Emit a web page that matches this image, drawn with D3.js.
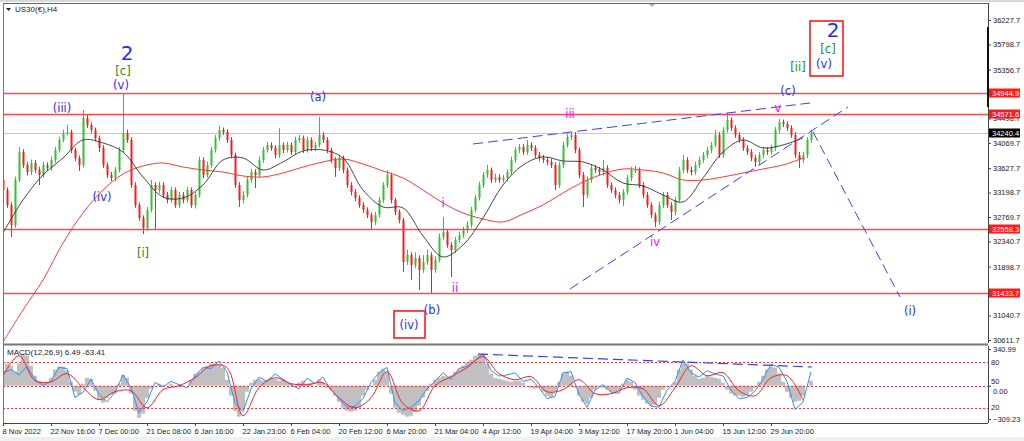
<!DOCTYPE html>
<html>
<head>
<meta charset="utf-8">
<script src="https://cdn.jsdelivr.net/npm/d3@7"></script>
<style>
html, body { margin: 0; padding: 0; background: #fff; }
svg { display: block; font-family: "Liberation Sans", Arial, sans-serif; }
</style>
</head>
<body>
<div id="chart"></div>
<script>
// US30 H4 bars, one entry per bar (open = previous close)
const firstOpen = 33420;
const closes = [
  33244,32981,32630,33420,33911,33683,33560,33718,33595,33508,
  33683,33631,33771,33946,34122,34245,34262,33946,33806,33683,
  34508,34385,34297,34157,33982,33683,33508,33455,33595,33946,
  34245,34122,33332,32981,32753,32578,32893,33332,33244,33332,
  33157,33069,33244,32981,33157,33069,33244,32981,33157,33771,
  33508,33683,33946,34157,34297,34262,34122,33859,33332,33069,
  33157,33420,33560,33508,33771,33946,34034,33982,33859,34034,
  33946,34034,33911,34122,34157,33946,34122,33982,34034,34210,
  34122,33946,33771,33631,33806,33595,33332,33209,33104,32981,
  32893,32806,32683,32806,33069,33332,33508,33069,32858,32718,
  31981,32104,31928,32051,31840,31981,32104,31840,32016,32420,
  32507,32279,32191,32367,32455,32542,32630,32893,33104,33332,
  33508,33595,33420,33473,33420,33455,33560,33771,33946,33999,
  33911,34034,33982,33859,33806,33771,33736,33683,33332,33683,
  34034,34175,34210,33946,33508,33157,33420,33631,33595,33560,
  33631,33332,33244,33157,33069,33209,33455,33595,33595,33332,
  33157,32981,32806,32683,32981,33157,32981,32858,33069,33595,
  33771,33595,33560,33683,33771,33859,33946,34034,34210,33859,
  34297,34473,34333,34210,34122,33982,33911,33806,33736,33859,
  33946,33911,33982,34297,34438,34403,34333,34210,33859,33771,
  33859,34122,34240
];
const highs = [
  33480,33290,33030,33480,33990,33960,33740,33780,33770,33650,
  33740,33730,33830,34000,34180,34300,34385,34300,33990,33850,
  34648,34560,34430,34340,34200,34030,33730,33560,33650,34000,
  34947,34300,34170,33380,33030,32800,32950,33420,33380,33390,
  33380,33210,33300,33290,33210,33210,33300,33290,33210,33830,
  33820,33740,34000,34210,34368,34340,34310,34170,33900,33380,
  33220,33480,33620,33610,33830,34000,34090,34080,34030,34333,
  34080,34090,34080,34180,34210,34200,34180,34170,34090,34526,
  34260,34170,33990,33820,33860,33850,33640,33380,33260,33150,
  33030,32940,32850,32860,33120,33380,33595,33550,33110,32900,
  32760,32200,32150,32150,32100,32100,32200,32150,32080,32480,
  32771,32550,32330,32420,32510,32600,32690,32950,33160,33390,
  33560,33683,33640,33530,33520,33510,33610,33830,34000,34050,
  34050,34122,34080,34030,33910,33860,33820,33790,33730,33740,
  34090,34230,34262,34260,33990,33560,33480,33690,33680,33650,
  33771,33680,33380,33290,33210,33260,33510,33650,33666,33640,
  33380,33210,33030,32850,33040,33209,33210,33030,33120,33650,
  33859,33820,33650,33740,33830,33910,34000,34090,34297,34260,
  34350,34596,34520,34380,34260,34170,34030,33960,33860,33910,
  34000,34000,34040,34350,34491,34480,34450,34380,34260,33910,
  33910,34170,34300
];
const lows = [
  33190,32930,32420,32580,33380,33630,33500,33510,33540,33330,
  33460,33580,33580,33720,33900,34080,34200,33890,33750,33580,
  33640,34330,34240,34100,33911,33630,33450,33400,33400,33550,
  33900,34070,33280,32930,32700,32472,32530,32850,32542,33190,
  33100,33010,33020,32930,32930,33010,33020,32930,32920,33110,
  33450,33460,33630,33900,34110,34210,34070,33800,33280,32946,
  33010,33110,33370,33280,33460,33720,33900,33930,33800,33810,
  33890,33900,33860,33860,34070,33890,33900,33930,33930,33990,
  34070,33890,33720,33473,33580,33540,33280,33150,33050,32930,
  32840,32750,32542,32630,32760,33020,33280,33010,32800,32660,
  31805,31930,31665,31870,31489,31790,31930,31437,31790,31970,
  32370,32230,31718,32140,32320,32400,32490,32580,32850,33060,
  33280,33460,33370,33370,33370,33370,33400,33510,33720,33890,
  33860,33860,33930,33800,33750,33720,33680,33630,33244,33280,
  33630,33990,34120,33890,33450,32946,33100,33370,33540,33500,
  33500,33280,33190,33100,33010,32964,33160,33400,33540,33280,
  33100,32930,32750,32595,32630,32930,32930,32718,32800,33020,
  33540,33540,33500,33510,33630,33720,33800,33890,33990,33806,
  33810,34250,34280,34160,34070,33930,33860,33750,33648,33680,
  33800,33860,33860,33930,34250,34350,34280,34160,33800,33631,
  33720,33800,34070
];

// moving averages read every 5 bars
const maStep = 5;
const maFast = [
  32490,33069,33508,33806,34122,34069,33911,33473,33122,33104,
  33332,33771,33806,33595,33736,33929,33946,33806,33244,32946,
  32929,32437,32069,32279,32753,33332,33683,33824,33753,33736,
  33595,33367,33315,33157,33034,33455,33911,34122,33982,34034,
  34157
];
const maSlow = [
  30577,31139,31665,32314,32841,33244,33525,33666,33718,33648,
  33595,33560,33490,33473,33543,33648,33736,33789,33701,33578,
  33455,33244,33016,32841,32736,32683,32823,32981,33192,33385,
  33525,33613,33595,33543,33420,33420,33473,33543,33613,33683,
  33806
];

const levelPrices = [34944.9, 34571.6, 32558.3, 31433.7];
const lastPrice = 34240.4;
const priceTicks = [36227.7, 35798.7, 35356.7, 34927.7, 34498.7, 34069.7, 33627.7,
  33198.7, 32769.7, 32340.7, 31898.7, 31469.7, 31040.7, 30611.7];

const labelStep = 12;
const timeLabels = ["8 Nov 2022", "22 Nov 16:00", "7 Dec 00:00", "21 Dec 08:00", "6 Jan 16:00",
  "22 Jan 23:00", "6 Feb 04:00", "20 Feb 12:00", "6 Mar 20:00", "21 Mar 04:00", "4 Apr 12:00",
  "19 Apr 04:00", "3 May 12:00", "17 May 20:00", "1 Jun 04:00", "15 Jun 12:00", "29 Jun 20:00"];

// MACD panel
const macdRange = [-309.23, 340.99];
const macdHist = [
  140,205,186,130,205,298,279,186,93,47,
  37,28,74,149,177,177,140,37,-56,-84,
  19,74,65,-47,-130,-158,-112,-84,-74,19,
  102,74,-74,-233,-298,-260,-112,-28,0,19,
  9,0,19,0,9,-9,0,56,112,130,
  167,186,205,205,195,167,56,-93,-233,-288,
  -223,-56,28,56,65,47,56,74,65,47,
  56,37,19,0,28,47,19,28,0,56,
  28,-19,-37,-93,-149,-205,-233,-242,-233,-205,
  -93,-37,-9,56,130,158,121,-74,-205,-251,
  -270,-288,-279,-242,-186,-112,-47,19,56,74,
  93,84,93,130,158,186,214,242,279,288,
  298,205,112,74,65,56,47,37,47,47,
  28,0,-19,-28,-19,-56,-93,-112,-56,37,
  112,130,93,-19,-93,-149,-167,-112,-37,-9,
  -19,-37,-56,-65,-47,19,56,37,-37,-93,
  -130,-167,-186,-177,-112,-37,-9,0,37,149,
  223,205,149,93,65,74,93,84,74,65,
  28,-37,-74,-93,-93,-102,-84,-56,-19,37,
  93,149,177,167,112,37,-56,-112,-149,-140,
  -93,0,47
];
const blueStep = 2;
const macdBlue = [
  120,150,100,180,60,0,40,170,160,-110,
  -60,60,-80,-150,-60,100,-20,-250,-150,30,
  -10,40,10,-20,90,170,160,230,130,-160,
  -240,-30,80,40,110,60,10,-30,70,20,
  80,-40,-120,-200,-190,-120,30,120,170,-160,
  -230,-200,-140,-30,40,120,60,160,180,230,
  300,140,90,100,120,40,60,-20,-120,-100,
  120,130,-80,-200,-40,10,-60,-70,70,30,
  -100,-190,-200,-40,40,240,120,80,140,110,
  90,-40,-120,-110,-50,60,200,170,40,-220,
  -150,130
];
const redStep = 4;
const macdRed = [
  93,279,47,37,112,-19,-130,-56,-47,-205,
  -37,0,74,186,167,-279,-19,74,19,9,
  28,-112,-205,-112,130,-167,-233,0,84,167,
  270,112,56,84,-56,-37,56,-74,-74,-19,
  -28,-186,-19,186,93,121,-47,-93,74,93,
  -130
];
const macdLevels = [220, 0, -207];
const macdLevelLabels = ["80", "50", "20"];

// drawn objects, in [bar, price] chart coordinates
const trendLines = [
  [[117.5, 34052], [201.75, 34771]],
  [[141.75, 31507], [211.25, 34701]],
  [[202.5, 34263], [224.25, 31366]]
];
const macdTrend = [[118.75, 294], [202.25, 174]];

const waveLabels = [
  {t: "2", bar: 31, price: 35640, c: "blue", big: true},
  {t: "[c]", bar: 30, price: 35340, c: "green"},
  {t: "(v)", bar: 29.5, price: 35080, c: "blue"},
  {t: "(iii)", bar: 14.75, price: 34684, c: "blue"},
  {t: "(iv)", bar: 24.75, price: 33122, c: "blue"},
  {t: "[i]", bar: 35, price: 32139, c: "green"},
  {t: "(a)", bar: 78.75, price: 34877, c: "blue"},
  {t: "(b)", bar: 107.25, price: 31139, c: "blue"},
  {t: "(iv)", bar: 101.5, price: 30875, c: "blue"},
  {t: "i", bar: 110, price: 33016, c: "magenta"},
  {t: "ii", bar: 113, price: 31525, c: "magenta"},
  {t: "iii", bar: 141.75, price: 34578, c: "magenta"},
  {t: "iv", bar: 163, price: 32332, c: "magenta"},
  {t: "v", bar: 193.75, price: 34684, c: "magenta"},
  {t: "(c)", bar: 196.25, price: 34982, c: "blue"},
  {t: "[ii]", bar: 198.75, price: 35403, c: "green"},
  {t: "(v)", bar: 205.25, price: 35456, c: "blue"},
  {t: "[c]", bar: 206.25, price: 35719, c: "green"},
  {t: "2", bar: 207.5, price: 36050, c: "blue", big: true},
  {t: "(i)", bar: 226.75, price: 31121, c: "blue"}
];
const labelBoxes = [
  [[97.75, 31121], [105.5, 30647]],
  [[201.75, 36210], [210, 35245]]
];

const colors = {blue: "#2a2aff", green: "#1f8a1f", magenta: "#ff00ff"};

const W = 1024, H = 441;
const svg = d3.select("#chart").append("svg").attr("width", W).attr("height", H);

svg.append("rect").attr("width", W).attr("height", H).attr("fill", "#fff");
svg.append("rect").attr("width", W).attr("height", 2).attr("fill", "#d8d8d8");
svg.append("rect").attr("y", 437).attr("width", W).attr("height", 4).attr("fill", "#f0f0f0");

const x = d3.scaleLinear().domain([0, 246]).range([3, 987]);
const y = d3.scaleLinear().domain([30541, 36526]).range([344, 3]);
const my = d3.scaleLinear().domain(macdRange).range([419, 349]);

const defs = svg.append("defs");
defs.append("clipPath").attr("id", "clipMain")
  .append("rect").attr("x", 3).attr("y", 3).attr("width", 985).attr("height", 340);
defs.append("clipPath").attr("id", "clipSub")
  .append("rect").attr("x", 3).attr("y", 346).attr("width", 985).attr("height", 77);

// ---- main panel ----
const g = svg.append("g").attr("clip-path", "url(#clipMain)");

g.append("line")
  .attr("x1", 3).attr("x2", 988)
  .attr("y1", Math.round(y(lastPrice)) + 0.5).attr("y2", Math.round(y(lastPrice)) + 0.5)
  .attr("stroke", "#c8c8c8");

const candles = closes.map((c, i) => ({
  i: i, o: i ? closes[i - 1] : firstOpen, c: c, h: highs[i], l: lows[i]
}));
const candleColor = d => d.c >= d.o ? "#2fc42f" : "#ff1a1a";

g.selectAll(".wick").data(candles).join("line")
  .attr("class", "wick")
  .attr("x1", d => x(d.i) + 0.5).attr("x2", d => x(d.i) + 0.5)
  .attr("y1", d => y(d.h)).attr("y2", d => y(d.l))
  .attr("stroke", candleColor).attr("stroke-width", 1);

g.selectAll(".body").data(candles).join("rect")
  .attr("class", "body")
  .attr("x", d => x(d.i) - 0.5).attr("width", 2)
  .attr("y", d => y(Math.max(d.o, d.c)))
  .attr("height", d => Math.max(1, Math.abs(y(d.o) - y(d.c))))
  .attr("fill", candleColor);

// horizontal levels are drawn over the bars, as in the terminal
g.selectAll(".level").data(levelPrices).join("line")
  .attr("class", "level")
  .attr("x1", 3).attr("x2", 988)
  .attr("y1", d => Math.round(y(d)) + 0.5).attr("y2", d => Math.round(y(d)) + 0.5)
  .attr("stroke", "#ff4a4a").attr("stroke-width", 1.3);

const maLine = d3.line()
  .x((d, k) => x(k * maStep))
  .y(d => y(d))
  .curve(d3.curveCatmullRom);

g.append("path").datum(maSlow)
  .attr("d", maLine).attr("fill", "none")
  .attr("stroke", "#ff3a3a").attr("stroke-width", 1);
g.append("path").datum(maFast)
  .attr("d", maLine).attr("fill", "none")
  .attr("stroke", "#333").attr("stroke-width", 0.9);

g.selectAll(".trend").data(trendLines).join("line")
  .attr("class", "trend")
  .attr("x1", d => x(d[0][0])).attr("y1", d => y(d[0][1]))
  .attr("x2", d => x(d[1][0])).attr("y2", d => y(d[1][1]))
  .attr("stroke", "#3d3dff").attr("stroke-width", 1)
  .attr("stroke-dasharray", "10,5");

g.selectAll(".box").data(labelBoxes).join("rect")
  .attr("class", "box")
  .attr("x", d => x(d[0][0])).attr("y", d => y(d[0][1]))
  .attr("width", d => x(d[1][0]) - x(d[0][0]))
  .attr("height", d => y(d[1][1]) - y(d[0][1]))
  .attr("fill", "none").attr("stroke", "#ff1a1a").attr("stroke-width", 1.6);

g.selectAll(".wave").data(waveLabels).join("text")
  .attr("class", "wave")
  .attr("x", d => x(d.bar)).attr("y", d => y(d.price))
  .attr("text-anchor", "middle").attr("dominant-baseline", "central")
  .attr("font-family", "'DejaVu Sans', Verdana, sans-serif")
  .attr("font-size", d => d.big ? 20 : 11.5)
  .attr("fill", d => colors[d.c])
  .text(d => d.t);

// chart-shift marker
svg.append("path").attr("d", "M648,3 L656,3 L652,7 Z").attr("fill", "#b0b0b0");

// title
svg.append("path").attr("d", "M6,8 L11,8 L8.5,11 Z").attr("fill", "#222");
svg.append("text").attr("x", 15).attr("y", 12)
  .attr("font-size", 8).attr("fill", "#222").text("US30(€),H4");

// ---- MACD panel ----
const sg = svg.append("g").attr("clip-path", "url(#clipSub)");

sg.selectAll(".hist").data(macdHist).join("rect")
  .attr("class", "hist")
  .attr("x", (d, i) => x(i) - 2).attr("width", 4)
  .attr("y", d => my(Math.max(0, d)))
  .attr("height", d => Math.abs(my(d) - my(0)))
  .attr("fill", "#c0c0c0");

sg.selectAll(".mlevel").data(macdLevels).join("line")
  .attr("class", "mlevel")
  .attr("x1", 3).attr("x2", 988)
  .attr("y1", d => Math.round(my(d)) + 0.5).attr("y2", d => Math.round(my(d)) + 0.5)
  .attr("stroke", "#ff3030").attr("stroke-width", 1)
  .attr("stroke-dasharray", "2,2");

sg.append("path").datum(macdBlue)
  .attr("d", d3.line().x((d, k) => x(k * blueStep)).y(d => my(d)))
  .attr("fill", "none").attr("stroke", "#2f8fff").attr("stroke-width", 1);

sg.append("path").datum(macdRed)
  .attr("d", d3.line().x((d, k) => x(k * redStep)).y(d => my(d)).curve(d3.curveCatmullRom))
  .attr("fill", "none").attr("stroke", "#ff2020").attr("stroke-width", 1);

sg.append("line")
  .attr("x1", x(macdTrend[0][0])).attr("y1", my(macdTrend[0][1]))
  .attr("x2", x(macdTrend[1][0])).attr("y2", my(macdTrend[1][1]))
  .attr("stroke", "#3d3dff").attr("stroke-width", 1.2)
  .attr("stroke-dasharray", "10,5");

svg.append("text").attr("x", 7).attr("y", 355)
  .attr("font-size", 8).attr("fill", "#222").text("MACD(12,26,9) 6.49 -63.41");

// ---- frames ----
svg.append("line").attr("x1", 3).attr("x2", 988).attr("y1", 3.5).attr("y2", 3.5).attr("stroke", "#666");
svg.append("line").attr("x1", 3.5).attr("x2", 3.5).attr("y1", 3).attr("y2", 423).attr("stroke", "#777");
svg.append("line").attr("x1", 3).attr("x2", 988).attr("y1", 344.5).attr("y2", 344.5)
  .attr("stroke", "#777").attr("stroke-width", 2);

// ---- price axis ----
const yAxis = svg.append("g").attr("transform", "translate(988,0)")
  .call(d3.axisRight(y).tickValues(priceTicks).tickSize(3).tickPadding(2)
    .tickFormat(d3.format(".1f")));
yAxis.select(".domain").attr("stroke", "#444").attr("d", "M0.5,3V343");
yAxis.selectAll("text").attr("font-size", 7.5).attr("fill", "#222")
  .attr("font-family", "'Liberation Sans', Arial, sans-serif");
yAxis.selectAll("line").attr("stroke", "#444");

svg.append("rect").attr("x", 987).attr("y", 27).attr("width", 2).attr("height", 80).attr("fill", "#111");

const priceTags = levelPrices.map(p => ({p: p, bg: "#ff1a1a"})).concat([{p: lastPrice, bg: "#000"}]);
const tags = svg.selectAll(".tag").data(priceTags).join("g")
  .attr("class", "tag")
  .attr("transform", d => `translate(989,${Math.round(y(d.p))})`);
tags.append("rect").attr("x", 0).attr("y", -4.5).attr("width", 31).attr("height", 9)
  .attr("fill", d => d.bg);
tags.append("text").attr("x", 3).attr("y", 0).attr("dominant-baseline", "central")
  .attr("font-size", 7.5).attr("fill", "#fff").text(d => d3.format(".1f")(d.p));

// ---- MACD axis ----
const mAxis = svg.append("g").attr("transform", "translate(988,0)")
  .call(d3.axisRight(my).tickValues(macdRange.slice().reverse().concat([0])).tickSize(3)
    .tickPadding(2).tickFormat(d3.format(".2f")));
mAxis.select(".domain").attr("stroke", "#444").attr("d", "M0.5,346V423");
mAxis.selectAll("text").attr("font-size", 7.5).attr("fill", "#222");
mAxis.selectAll("line").attr("stroke", "#444");
// "0.00" sits just under the "50" level label
mAxis.selectAll(".tick").filter(d => d === 0).select("text").attr("dy", "1.05em");

svg.selectAll(".mlab").data(macdLevels).join("text")
  .attr("class", "mlab")
  .attr("x", 991).attr("y", d => my(d)).attr("dy", (d, k) => k === 1 ? "-0.55em" : "0")
  .attr("dominant-baseline", "central")
  .attr("font-size", 7.5).attr("fill", "#222")
  .text((d, k) => macdLevelLabels[k]);

// ---- time axis ----
const xAxis = svg.append("g").attr("transform", "translate(0,423)")
  .call(d3.axisBottom(x).tickValues(timeLabels.map((t, k) => k * labelStep))
    .tickSize(3).tickPadding(3).tickFormat((d, k) => timeLabels[k]));
xAxis.select(".domain").attr("stroke", "#444").attr("d", "M3,0.5H988");
xAxis.selectAll("text").attr("font-size", 7.5).attr("fill", "#222")
  .attr("text-anchor", "start").attr("dx", -1);
xAxis.selectAll("line").attr("stroke", "#444");
</script>
</body>
</html>
